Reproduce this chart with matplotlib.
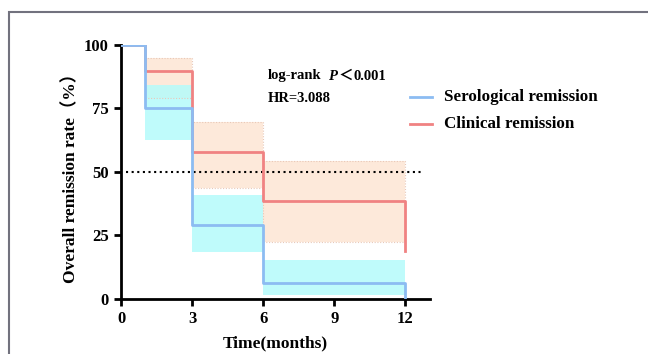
import numpy as np
import matplotlib
matplotlib.use("Agg")
import matplotlib.pyplot as plt
from matplotlib.patches import Rectangle

# step times (months)
times = [0, 1, 3, 6, 12]

# serological remission
sero_surv = [100, 75, 29.2, 6.2]
sero_lo = [100, 62.6, 18.4, 1.5]
sero_hi = [100, 84.1, 40.9, 15.2]
sero_end = 0

# clinical remission
clin_surv = [100, 89.6, 57.8, 38.6]
clin_lo = [100, 79.2, 43.5, 22.5]
clin_hi = [100, 94.9, 69.6, 54.4]
clin_end = 19

yticks = [0, 25, 50, 75, 100]
xticks = [0, 3, 6, 9, 12]

blue = "#8cbcf2"
red = "#f08282"
cyan = "#b4fbfb"
peach = "#fde9da"

serif = ["Liberation Serif", "Noto Sans CJK SC"]

fig = plt.figure(figsize=(6.48, 3.54), dpi=100)
ax = fig.add_axes([0.187, 0.156, 0.477, 0.717])

# confidence bands
for i in range(1, 4):
    x0, x1 = times[i], times[i + 1]
    ax.fill_between([x0, x1], clin_lo[i], clin_hi[i], color=peach, lw=0, zorder=1)
    ax.add_patch(Rectangle((x0, clin_lo[i]), x1 - x0, clin_hi[i] - clin_lo[i],
                           fill=False, ec="#e8c8b8", lw=0.8, ls=(0, (1, 1.5)), zorder=2))
for i in range(1, 4):
    x0, x1 = times[i], times[i + 1]
    ax.fill_between([x0, x1], sero_lo[i], sero_hi[i], color=cyan, lw=0, alpha=0.85, zorder=1.5)

# step curves
cx = times + [times[-1]]
ax.step(cx, clin_surv + [clin_surv[-1], clin_end], where="post", color=red, lw=2, zorder=3)
ax.step(cx, sero_surv + [sero_surv[-1], sero_end], where="post", color=blue, lw=2, zorder=4)

ax.axhline(50, xmin=0.015, xmax=0.98, color="black", ls=(0, (1, 1.7)), lw=1.5, zorder=2.5)
ax.set_xlim(0, 13.05)
ax.set_ylim(0, 100)

for s in ["top", "right"]:
    ax.spines[s].set_visible(False)
for s in ["left", "bottom"]:
    ax.spines[s].set_linewidth(2)
ax.tick_params(width=2, length=5, direction="out", pad=4)
ax.set_xticks(xticks)
ax.set_yticks(yticks)
for lab in ax.get_xticklabels() + ax.get_yticklabels():
    lab.set_family(serif)
    lab.set_fontweight("bold")
    lab.set_fontsize(12)

ax.set_xlabel("Time(months)", family=serif, fontweight="bold", fontsize=12.5, labelpad=6)
ax.set_ylabel("Overall remission rate（%）", family=serif, fontweight="bold", fontsize=12.5)
ax.yaxis.set_label_coords(-0.135, 0.49)

ty1, ty2 = 1 - 76 / 354, 1 - 99 / 354
fig.text(268 / 648, ty1, "log-rank", family=serif, fontweight="bold", fontsize=10.5, va="center")
fig.text(328 / 648, ty1, "P", family=serif, fontweight="bold", style="italic", fontsize=10.5, va="center")
fig.text(346 / 648, ty1, "＜", family=serif, fontweight="bold", fontsize=10.5, va="center", ha="center")
fig.text(353 / 648, ty1, "0.001", family=serif, fontweight="bold", fontsize=10.5, va="center")
fig.text(268 / 648, ty2, "HR=3.088", family=serif, fontweight="bold", fontsize=10.5, va="center")

leg_y = [1 - 97 / 354, 1 - 124 / 354]
for yy, col, name in zip(leg_y, [blue, red], ["Serological remission", "Clinical remission"]):
    fig.add_artist(plt.Line2D([0.633, 0.667], [yy, yy], color=col, lw=2))
    fig.text(0.685, yy, name, family=serif, fontweight="bold", fontsize=12.25, va="center")

# outer frame
fig.add_artist(Rectangle((0.014, -0.1), 1.2, 1.067, fill=False, ec="#72727e", lw=1.5,
                         transform=fig.transFigure))

fig.savefig("out.png", dpi=100)
